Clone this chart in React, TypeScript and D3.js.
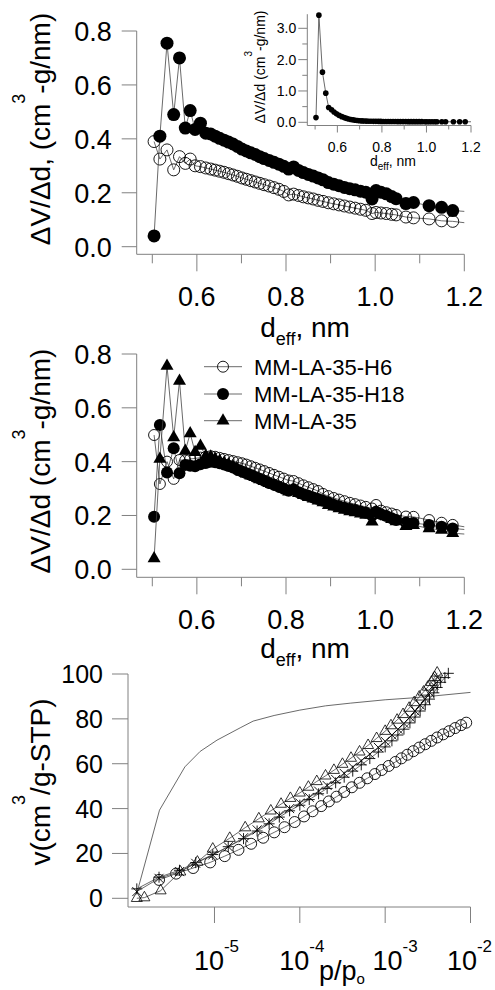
import React from "react";
import * as d3 from "d3";

// pore width grid (nm); the last entry only carries the line on to the axis end
const deff = [0.504, 0.517, 0.533, 0.548, 0.561, 0.574, 0.585, 0.596, 0.608, 0.620,
  0.631, 0.641, 0.651, 0.661, 0.671, 0.681, 0.691, 0.701, 0.711, 0.721,
  0.731, 0.741, 0.751, 0.762, 0.773, 0.784, 0.795, 0.806, 0.817, 0.828,
  0.839, 0.850, 0.861, 0.872, 0.883, 0.895, 0.907, 0.919, 0.931, 0.943,
  0.955, 0.967, 0.979, 0.993, 1.002, 1.013, 1.025, 1.037, 1.047, 1.069,
  1.086, 1.121, 1.149, 1.174, 1.2];

const mmLa35 = [0.040, 0.410, 0.755, 0.490, 0.700, 0.440, 0.505, 0.435, 0.458, 0.421,
  0.418, 0.410, 0.402, 0.395, 0.388, 0.381, 0.372, 0.362, 0.355, 0.348,
  0.342, 0.334, 0.327, 0.320, 0.313, 0.306, 0.298, 0.288, 0.296, 0.283,
  0.275, 0.268, 0.262, 0.255, 0.248, 0.238, 0.232, 0.226, 0.220, 0.215,
  0.211, 0.206, 0.202, 0.177, 0.208, 0.202, 0.196, 0.186, 0.178, 0.160,
  0.164, 0.152, 0.146, 0.134, 0.131];

const topOpen = [0.390, 0.325, 0.359, 0.285, 0.334, 0.309, 0.325, 0.300, 0.297, 0.292,
  0.288, 0.284, 0.280, 0.276, 0.271, 0.266, 0.261, 0.255, 0.250, 0.245,
  0.240, 0.235, 0.230, 0.225, 0.219, 0.213, 0.205, 0.192, 0.195, 0.190,
  0.185, 0.181, 0.177, 0.172, 0.168, 0.163, 0.159, 0.155, 0.151, 0.147,
  0.143, 0.139, 0.135, 0.123, 0.127, 0.125, 0.123, 0.120, 0.118, 0.110,
  0.107, 0.103, 0.096, 0.094, 0.089];

const h6 = [0.499, 0.317, 0.400, 0.336, 0.406, 0.405, 0.410, 0.412, 0.415, 0.418,
  0.420, 0.418, 0.414, 0.410, 0.406, 0.402, 0.398, 0.394, 0.389, 0.383,
  0.377, 0.371, 0.365, 0.358, 0.351, 0.344, 0.337, 0.330, 0.328, 0.320,
  0.312, 0.305, 0.298, 0.291, 0.280, 0.272, 0.265, 0.259, 0.253, 0.247,
  0.242, 0.237, 0.232, 0.226, 0.239, 0.218, 0.212, 0.207, 0.202, 0.196,
  0.195, 0.183, 0.173, 0.165, 0.158];

const h18 = [0.195, 0.536, 0.360, 0.450, 0.357, 0.388, 0.385, 0.383, 0.390, 0.395,
  0.400, 0.398, 0.394, 0.389, 0.384, 0.378, 0.370, 0.363, 0.357, 0.350,
  0.343, 0.336, 0.329, 0.321, 0.314, 0.307, 0.299, 0.292, 0.297, 0.286,
  0.279, 0.273, 0.267, 0.261, 0.255, 0.248, 0.240, 0.234, 0.229, 0.224,
  0.220, 0.215, 0.210, 0.200, 0.214, 0.205, 0.198, 0.190, 0.183, 0.174,
  0.172, 0.165, 0.158, 0.152, 0.148];

const insetVals = [0.15, 3.42, 1.60, 0.93, 0.47, 0.40, 0.33, 0.27, 0.22, 0.18,
  0.150, 0.125, 0.105, 0.090, 0.077, 0.066, 0.057, 0.050, 0.045, 0.041,
  0.038, 0.035, 0.033, 0.031, 0.030, 0.029, 0.028, 0.027, 0.026, 0.025,
  0.025, 0.024, 0.024, 0.023, 0.023, 0.022, 0.022, 0.021, 0.021, 0.021,
  0.020, 0.020, 0.020, 0.019, 0.019, 0.019, 0.019, 0.018, 0.018, 0.018,
  0.018, 0.017, 0.017, 0.017, 0.017];

const legendNames = ["MM-LA-35-H6", "MM-LA-35-H18", "MM-LA-35"];

// isotherms, p/po and cm3/g STP
const triP = [1.23e-6, 1.51e-6, 2.34e-6, 3.98e-6, 6.31e-6, 9.55e-6, 1.51e-5, 2.29e-5, 3.31e-5, 4.57e-5,
  6.03e-5, 7.76e-5, 1.0e-4, 1.26e-4, 1.58e-4, 2.0e-4, 2.51e-4, 3.16e-4, 3.98e-4, 5.01e-4,
  6.31e-4, 7.94e-4, 1.0e-3, 1.17e-3, 1.38e-3, 1.62e-3, 1.91e-3, 2.19e-3, 2.51e-3, 2.82e-3,
  3.16e-3, 3.47e-3, 3.80e-3, 4.07e-3];
const triV = [0, 0.3, 3.4, 11.8, 16.2, 22.0, 26.8, 31.5, 35.5, 39.0,
  42.0, 44.6, 47.0, 49.6, 52.1, 54.6, 57.1, 59.8, 62.5, 65.3,
  68.2, 71.3, 74.5, 77.0, 79.5, 82.0, 84.8, 87.3, 89.8, 92.0,
  94.2, 96.3, 98.5, 100.5];

const crossP = [1.23e-6, 2.24e-6, 3.89e-6, 6.03e-6, 9.55e-6, 1.45e-5, 2.19e-5, 3.16e-5, 4.37e-5, 5.75e-5,
  7.59e-5, 1.0e-4, 1.29e-4, 1.66e-4, 2.09e-4, 2.63e-4, 3.31e-4, 4.17e-4, 5.25e-4, 6.61e-4,
  8.32e-4, 1.0e-3, 1.20e-3, 1.41e-3, 1.66e-3, 1.95e-3, 2.24e-3, 2.57e-3, 2.95e-3, 3.31e-3,
  3.72e-3, 4.07e-3];
const crossV = [3.0, 8.9, 11.9, 15.6, 19.3, 23.0, 27.0, 30.5, 34.0, 37.0,
  40.0, 42.5, 45.0, 47.8, 50.3, 53.0, 55.7, 58.5, 61.3, 64.3,
  67.3, 70.0, 72.8, 75.4, 78.0, 80.8, 83.5, 86.2, 89.0, 91.8,
  95.0, 98.5];

const plusP = [1.23e-6, 2.24e-6, 3.89e-6, 6.03e-6, 9.55e-6, 1.45e-5, 2.19e-5, 3.16e-5, 4.37e-5, 5.75e-5,
  7.59e-5, 1.0e-4, 1.29e-4, 1.66e-4, 2.09e-4, 2.63e-4, 3.31e-4, 4.17e-4, 5.25e-4, 6.61e-4,
  8.32e-4, 1.0e-3, 1.20e-3, 1.41e-3, 1.66e-3, 1.95e-3, 2.24e-3, 2.57e-3, 2.95e-3, 3.31e-3,
  3.72e-3, 4.07e-3, 4.47e-3, 5.01e-3, 5.50e-3];
const plusV = [4.2, 9.4, 12.5, 15.9, 19.5, 23.0, 26.6, 30.0, 33.2, 36.2,
  39.0, 41.5, 44.0, 46.6, 49.0, 51.5, 54.0, 56.7, 59.5, 62.3,
  65.2, 67.5, 70.2, 72.8, 75.4, 78.2, 80.8, 83.5, 86.3, 88.8,
  91.6, 94.0, 96.3, 98.4, 100.3];

const ringP = [2.24e-6, 3.55e-6, 5.62e-6, 8.91e-6, 1.32e-5, 1.91e-5, 2.69e-5, 3.72e-5, 5.01e-5, 6.61e-5,
  8.71e-5, 1.12e-4, 1.41e-4, 1.78e-4, 2.19e-4, 2.69e-4, 3.31e-4, 4.07e-4, 5.01e-4, 6.17e-4,
  7.59e-4, 9.12e-4, 1.10e-3, 1.32e-3, 1.55e-3, 1.82e-3, 2.14e-3, 2.51e-3, 2.95e-3, 3.47e-3,
  4.07e-3, 4.79e-3, 5.62e-3, 6.61e-3, 7.76e-3, 8.91e-3];
const ringV = [8.2, 11.0, 13.5, 16.0, 18.8, 21.6, 24.3, 27.0, 29.4, 31.7,
  34.0, 36.5, 38.8, 41.1, 43.2, 45.3, 47.4, 49.5, 51.5, 53.5,
  55.4, 57.2, 59.0, 60.8, 62.4, 64.0, 65.6, 67.2, 68.7, 70.2,
  71.7, 73.1, 74.5, 75.9, 77.2, 78.3];

const plainP = [1.23e-6, 2.27e-6, 4.5e-6, 6.8e-6, 1.07e-5, 2.0e-5, 2.84e-5, 5.0e-5, 1.0e-4, 2.0e-4, 3.9e-4, 1.0e-3, 2.0e-3, 3.7e-3, 1.0e-2];
const plainV = [2.2, 39.3, 58.6, 65.5, 70.5, 76.0, 79.0, 81.5, 83.9, 85.8, 87.0, 88.5, 89.3, 90.2, 91.8];

const dYTicks = [0, 0.2, 0.4, 0.6, 0.8];
const dXMajor = [0.6, 0.8, 1.0, 1.2];
const dXMinor = [0.5, 0.7, 0.9, 1.1];
const insetYMajor = [0, 1, 2, 3];
const insetYMinor = [0.5, 1.5, 2.5];
const vTicks = [0, 20, 40, 60, 80, 100];
const pTicks = [1e-5, 1e-4, 1e-3, 1e-2];
const pLabelNudge = [2, 2, 10, -1]; // the 10^-3 label sits right of its tick to clear p/po

const FONT = "'Liberation Sans', Arial, Helvetica, sans-serif";
const AXIS = "#808080";
const INK = "#000";
const LINE = "#444";

type Scale = d3.ScaleLinear<number, number> | d3.ScaleLogarithmic<number, number>;

function mark(kind: string, cx: number, cy: number, s: number, key: number | string) {
  const t = `translate(${cx},${cy})`;
  switch (kind) {
    case "dot":
      return <circle key={key} cx={cx} cy={cy} r={s} fill={INK} />;
    case "ring":
      return <circle key={key} cx={cx} cy={cy} r={s} fill="none" stroke={INK} strokeWidth={0.9} />;
    case "tri":
      return <path key={key} transform={t} d={d3.symbol(d3.symbolTriangle, s * s * 0.433)() || ""} fill={INK} />;
    case "otri":
      return <path key={key} transform={t} d={d3.symbol(d3.symbolTriangle, s * s * 0.433)() || ""} fill="none" stroke={INK} strokeWidth={0.8} />;
    case "times":
      return <path key={key} transform={t} d={`M${-s},${-s}L${s},${s}M${-s},${s}L${s},${-s}`} stroke={INK} strokeWidth={0.9} />;
    default:
      return <path key={key} transform={t} d={`M${-s},0L${s},0M0,${-s}L0,${s}`} stroke={INK} strokeWidth={0.9} />;
  }
}

// xs/ys series; markers on all points except the ones flagged as line-only tail
function Series({ xs, ys, x, y, kind, size, tail = 0 }: {
  xs: number[]; ys: number[]; x: Scale; y: Scale; kind: string; size: number; tail?: number;
}) {
  const pts = xs.map((v, i) => [x(v), y(ys[i])] as [number, number]);
  const path = d3.line()(pts) || "";
  return (
    <g>
      <path d={path} fill="none" stroke={LINE} strokeWidth={0.8} />
      {pts.slice(0, pts.length - tail).map((p, i) => mark(kind, p[0], p[1], size, i))}
    </g>
  );
}

function DAxes({ x, y, axisY, tickFont, xLabelY, titleY, yTitle, yTitleCy }: {
  x: d3.ScaleLinear<number, number>; y: d3.ScaleLinear<number, number>; axisY: number;
  tickFont: number; xLabelY: number; titleY: number; yTitle: string; yTitleCy: number;
}) {
  const [x0, x1] = x.range();
  return (
    <g fontFamily={FONT} fill={INK}>
      <line x1={x0} x2={x0} y1={y(0.8)} y2={axisY} stroke={AXIS} />
      <line x1={x0} x2={x1} y1={axisY} y2={axisY} stroke={AXIS} />
      {dYTicks.map(t => (
        <g key={t}>
          <line x1={x0 - 15} x2={x0} y1={y(t)} y2={y(t)} stroke={AXIS} />
          <text x={x0 - 25} y={y(t) + 10} textAnchor="end" fontSize={tickFont}>{t.toFixed(1)}</text>
        </g>
      ))}
      {dXMinor.map(t => <line key={t} x1={x(t)} x2={x(t)} y1={axisY} y2={axisY + 9} stroke={AXIS} />)}
      {dXMajor.map(t => (
        <g key={t}>
          <line x1={x(t)} x2={x(t)} y1={axisY} y2={axisY + 17} stroke={AXIS} />
          <text x={x(t)} y={xLabelY} textAnchor="middle" fontSize={tickFont}>{t.toFixed(1)}</text>
        </g>
      ))}
      <text x={305} y={titleY} textAnchor="middle" fontSize={28}>
        d<tspan fontSize={18} dy={8}>eff</tspan><tspan dy={-8}>, nm</tspan>
      </text>
      <text transform={`translate(50,${yTitleCy}) rotate(-90)`} textAnchor="middle" fontSize={28}>
        {yTitle}<tspan fontSize={18} dy={-25}>3</tspan><tspan dy={25}>-g/nm)</tspan>
      </text>
    </g>
  );
}

export default function App() {
  const xTop = d3.scaleLinear().domain([0.465, 1.2]).range([136.7, 464.3]);
  const yTop = d3.scaleLinear().domain([0, 0.8]).range([246.7, 31]);
  const yMid = d3.scaleLinear().domain([0, 0.8]).range([569.3, 354]);

  const xIn = d3.scaleLinear().domain([0.465, 1.2]).range([307.3, 471]);
  const yIn = d3.scaleLinear().domain([0, 3]).range([122.3, 28.3]);
  const inAxisY = 125.5;

  const xIso = d3.scaleLog().domain([9.7e-7, 1e-2]).range([128, 470.5]);
  const yIso = d3.scaleLinear().domain([0, 100]).range([898.3, 674]);
  const isoAxisY = 907;

  const legendY = [366.7, 394, 420.7];
  const legendKinds: [string, number][] = [["ring", 5.5], ["dot", 6], ["tri", 13]];

  const [ix0, ix1] = xIn.range();
  const [px0, px1] = xIso.range();

  return (
    <svg width={495} height={990} style={{ position: "absolute", left: 0, top: 0, background: "#fff" }}>
      <rect width={495} height={990} fill="#fff" />

      {/* top panel */}
      <DAxes x={xTop} y={yTop} axisY={254.3} tickFont={27} xLabelY={306} titleY={337}
        yTitle="ΔV/Δd, (cm" yTitleCy={129} />
      <Series xs={deff} ys={topOpen} x={xTop} y={yTop} kind="ring" size={6} tail={1} />
      <Series xs={deff} ys={mmLa35} x={xTop} y={yTop} kind="dot" size={6.5} tail={1} />

      {/* inset */}
      <g fontFamily={FONT} fill={INK}>
        <line x1={ix0} x2={ix0} y1={yIn(3.45)} y2={inAxisY} stroke={AXIS} />
        <line x1={ix0} x2={ix1} y1={inAxisY} y2={inAxisY} stroke={AXIS} />
        {insetYMinor.map(t => <line key={t} x1={ix0 - 5} x2={ix0} y1={yIn(t)} y2={yIn(t)} stroke={AXIS} />)}
        {insetYMajor.map(t => (
          <g key={t}>
            <line x1={ix0 - 9} x2={ix0} y1={yIn(t)} y2={yIn(t)} stroke={AXIS} />
            <text x={ix0 - 11} y={yIn(t) + 5} textAnchor="end" fontSize={14}>{t.toFixed(1)}</text>
          </g>
        ))}
        {dXMinor.map(t => <line key={t} x1={xIn(t)} x2={xIn(t)} y1={inAxisY} y2={inAxisY + 4} stroke={AXIS} />)}
        {dXMajor.map(t => (
          <g key={t}>
            <line x1={xIn(t)} x2={xIn(t)} y1={inAxisY} y2={inAxisY + 7} stroke={AXIS} />
            <text x={xIn(t)} y={152} textAnchor="middle" fontSize={14}>{t.toFixed(1)}</text>
          </g>
        ))}
        <text x={393} y={166} textAnchor="middle" fontSize={14}>
          d<tspan fontSize={10} dy={4}>eff</tspan><tspan dy={-4}>, nm</tspan>
        </text>
        <text transform="translate(265,67) rotate(-90)" textAnchor="middle" fontSize={14}>
          ΔV/Δd (cm<tspan fontSize={10} dy={-13}>3</tspan><tspan dy={13}>-g/nm)</tspan>
        </text>
      </g>
      <Series xs={deff} ys={insetVals} x={xIn} y={yIn} kind="dot" size={2.8} tail={1} />

      {/* middle panel */}
      <DAxes x={xTop} y={yMid} axisY={577.3} tickFont={27} xLabelY={629} titleY={658}
        yTitle="ΔV/Δd (cm" yTitleCy={461} />
      <Series xs={deff} ys={h6} x={xTop} y={yMid} kind="ring" size={5.5} tail={1} />
      <Series xs={deff} ys={h18} x={xTop} y={yMid} kind="dot" size={6} tail={1} />
      <Series xs={deff} ys={mmLa35} x={xTop} y={yMid} kind="tri" size={13} tail={1} />
      <g fontFamily={FONT}>
        {legendNames.map((name, i) => (
          <g key={name}>
            <line x1={204} x2={242} y1={legendY[i]} y2={legendY[i]} stroke={LINE} strokeWidth={0.8} />
            {mark(legendKinds[i][0], 223, legendY[i], legendKinds[i][1], "m")}
            <text x={254} y={legendY[i] + 8} fontSize={22} fill={INK}>{name}</text>
          </g>
        ))}
      </g>

      {/* bottom panel: isotherms */}
      <g fontFamily={FONT} fill={INK}>
        <line x1={px0} x2={px0} y1={yIso(100)} y2={isoAxisY} stroke={AXIS} />
        <line x1={px0} x2={px1} y1={isoAxisY} y2={isoAxisY} stroke={AXIS} />
        {vTicks.map(t => (
          <g key={t}>
            <line x1={px0 - 16} x2={px0} y1={yIso(t)} y2={yIso(t)} stroke={AXIS} />
            <text x={px0 - 25} y={yIso(t) + 9} textAnchor="end" fontSize={25}>{t}</text>
          </g>
        ))}
        {pTicks.map((t, i) => (
          <g key={t}>
            <line x1={xIso(t)} x2={xIso(t)} y1={isoAxisY} y2={isoAxisY + 16} stroke={AXIS} />
            <text x={xIso(t) + pLabelNudge[i]} y={970} textAnchor="middle" fontSize={27}>
              10<tspan fontSize={17} dy={-18}>{Math.round(Math.log10(t))}</tspan>
            </text>
          </g>
        ))}
        <text x={342} y={980} textAnchor="middle" fontSize={27}>
          p/p<tspan fontSize={15} dy={4}>o</tspan>
        </text>
        <text transform="translate(50,782) rotate(-90)" textAnchor="middle" fontSize={28}>
          v(cm<tspan fontSize={18} dy={-25}>3</tspan><tspan dy={25}>/g-STP)</tspan>
        </text>
      </g>
      <Series xs={plainP} ys={plainV} x={xIso} y={yIso} kind="none" size={0} tail={plainP.length} />
      <Series xs={ringP} ys={ringV} x={xIso} y={yIso} kind="ring" size={5.5} />
      <Series xs={plusP} ys={plusV} x={xIso} y={yIso} kind="plus" size={5.5} />
      <Series xs={crossP} ys={crossV} x={xIso} y={yIso} kind="times" size={4.5} />
      <Series xs={triP} ys={triV} x={xIso} y={yIso} kind="otri" size={11} />
    </svg>
  );
}
